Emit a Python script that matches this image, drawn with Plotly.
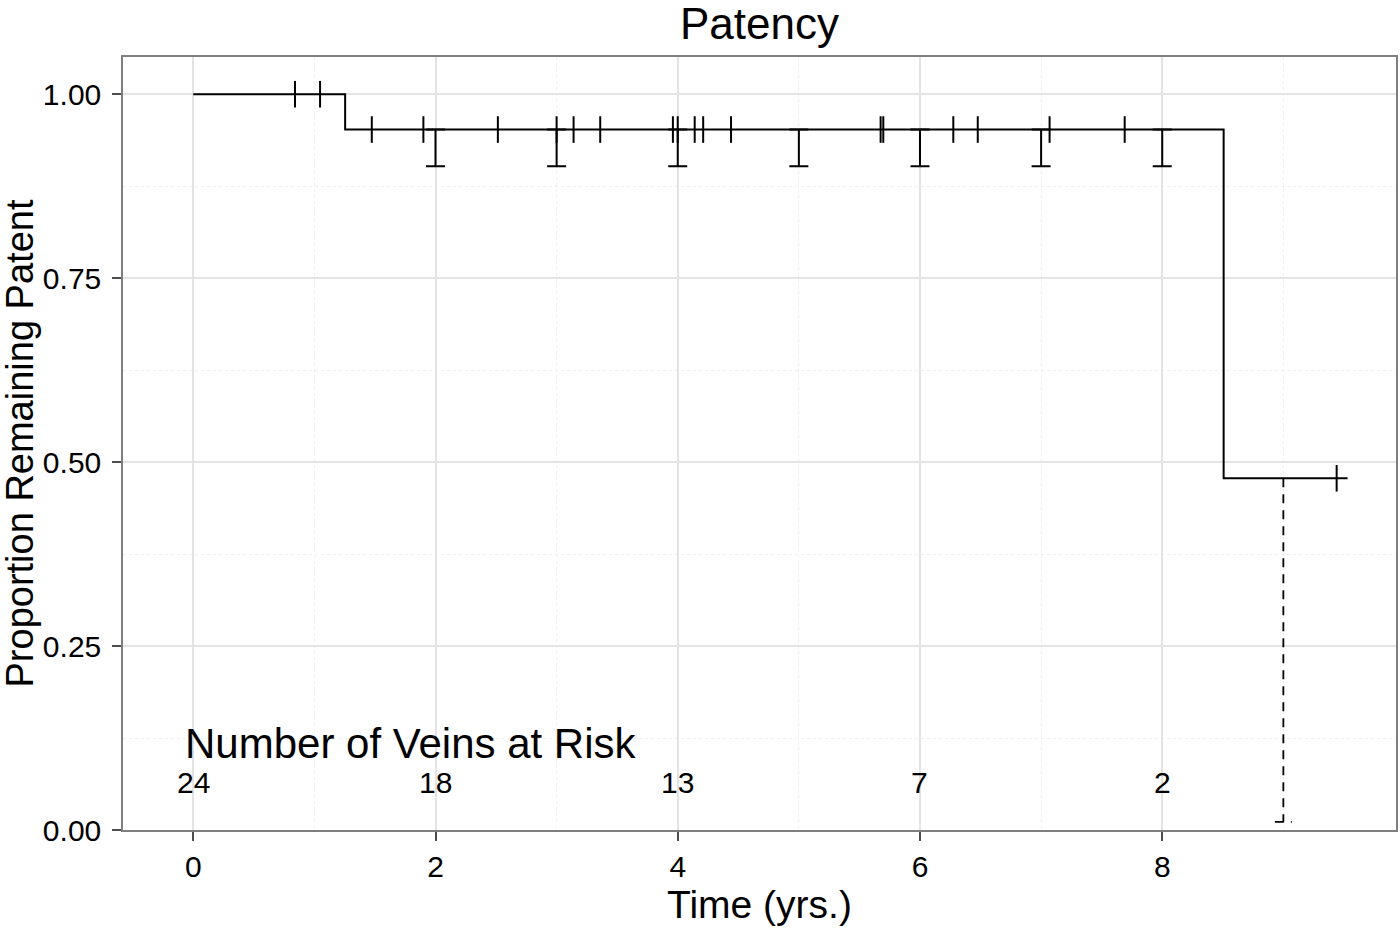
import plotly.graph_objects as go

# Kaplan-Meier estimate (step function)
km_time = [0.0, 1.254, 8.507, 9.53]
km_surv = [1.0, 0.952, 0.478, 0.478]

# Censoring times
censor_time = [0.84, 1.047, 1.474, 1.90, 2.515, 3.0, 3.14, 3.36, 3.96, 4.0,
               4.14, 4.21, 4.44, 5.675, 5.697, 6.275, 6.477, 7.07, 7.69, 9.44]

# Lower confidence bounds shown at yearly marks
ci_time = [2, 3, 4, 5, 6, 7, 8]
ci_est = [0.952, 0.952, 0.952, 0.952, 0.952, 0.952, 0.952]
ci_lower = [0.902, 0.902, 0.902, 0.902, 0.902, 0.902, 0.902]

# Last (dashed) confidence bound
ci2_time = [9.0]
ci2_est = [0.478]
ci2_lower = [0.011]

# Number at risk table
risk_time = [0, 2, 4, 6, 8]
risk_n = [24, 18, 13, 7, 2]
risk_title = "Number of Veins at Risk"

x_ticks = [0, 2, 4, 6, 8]
y_ticks = [0.0, 0.25, 0.5, 0.75, 1.0]
y_ticklabels = ["0.00", "0.25", "0.50", "0.75", "1.00"]


def surv_at(t):
    s = km_surv[0]
    for tt, ss in zip(km_time, km_surv):
        if tt <= t:
            s = ss
    return s


FONT = "Liberation Sans, Arial, sans-serif"
W, H = 1400, 929
fig = go.Figure()

# KM step line
fig.add_trace(go.Scatter(x=km_time, y=km_surv, mode="lines",
                         line=dict(color="black", width=2, shape="hv"),
                         showlegend=False, hoverinfo="skip"))

# Lower error bars
fig.add_trace(go.Scatter(
    x=ci_time, y=ci_est, mode="markers",
    marker=dict(size=1, color="rgba(0,0,0,0)"),
    error_y=dict(type="data", symmetric=False,
                 array=[0] * len(ci_time),
                 arrayminus=[e - l for e, l in zip(ci_est, ci_lower)],
                 color="black", thickness=2, width=9.5),
    showlegend=False, hoverinfo="skip"))

# Dashed final error bar
cap_half = 0.07
dx, dy = [], []
for t, e, l in zip(ci2_time, ci2_est, ci2_lower):
    dx += [t, t, None, t - cap_half, t + cap_half, None]
    dy += [e, l, None, l, l, None]
fig.add_trace(go.Scatter(x=dx, y=dy, mode="lines",
                         line=dict(color="black", width=1.8, dash="9px,7px"),
                         showlegend=False, hoverinfo="skip"))

# Censor marks
fig.add_trace(go.Scatter(
    x=censor_time, y=[surv_at(t) for t in censor_time], mode="markers",
    marker=dict(symbol="line-ns", size=19,
                line=dict(color="black", width=2)),
    showlegend=False, hoverinfo="skip"))

# Risk table
fig.add_annotation(x=-0.085, y=0.118, xref="x", yref="y", text=risk_title,
                   showarrow=False, xanchor="left", yanchor="middle",
                   font=dict(family=FONT, size=42, color="black"))
for t, n in zip(risk_time, risk_n):
    fig.add_annotation(x=t, y=0.064, xref="x", yref="y", text=str(n),
                       showarrow=False, xanchor="center", yanchor="middle",
                       font=dict(family=FONT, size=30, color="black"))

# Y axis title as rotated annotation
fig.add_annotation(x=0, y=0.5, xref="paper", yref="paper",
                   xshift=-(123 - 19), text="Proportion Remaining Patent",
                   textangle=-90, showarrow=False,
                   xanchor="center", yanchor="middle",
                   font=dict(family=FONT, size=38, color="black"))

fig.update_layout(
    width=W, height=H,
    margin=dict(l=123, r=4, t=57, b=99),
    paper_bgcolor="white", plot_bgcolor="white",
    font=dict(family=FONT, color="black"),
    title=dict(text="Patency", x=759.5 / W, xanchor="center",
               y=1 - 24 / H, yanchor="middle", yref="container",
               font=dict(family=FONT, size=44, color="black")),
)

fig.update_xaxes(
    range=[-0.58, 9.93], tickvals=x_ticks, ticktext=[str(v) for v in x_ticks],
    automargin=False,
    ticks="outside", ticklen=9, tickwidth=1.5, tickcolor="#4d4d4d",
    tickfont=dict(family=FONT, size=30, color="black"),
    showline=True, mirror=True, linecolor="#7f7f7f", linewidth=1.5,
    showgrid=True, gridcolor="#e3e3e3", gridwidth=1.5, zeroline=False,
    minor=dict(dtick=1, tick0=1, showgrid=True, gridcolor="#f0f0f0",
               griddash="dot", gridwidth=1),
    title=dict(text="Time (yrs.)", standoff=6,
               font=dict(family=FONT, size=39, color="black")),
)
fig.update_yaxes(
    range=[0, 1.0506], tickvals=y_ticks, ticktext=y_ticklabels,
    automargin=False,
    ticks="outside", ticklen=9, tickwidth=1.5, tickcolor="#4d4d4d",
    ticklabelstandoff=5,
    tickfont=dict(family=FONT, size=30, color="black"),
    showline=True, mirror=True, linecolor="#7f7f7f", linewidth=1.5,
    showgrid=True, gridcolor="#e3e3e3", gridwidth=1.5, zeroline=False,
    minor=dict(dtick=0.25, tick0=0.125, showgrid=True, gridcolor="#f0f0f0",
               griddash="dot", gridwidth=1),
)

fig.write_html("out.html", config={"displayModeBar": False},
               post_script="document.body.style.margin='0';")
